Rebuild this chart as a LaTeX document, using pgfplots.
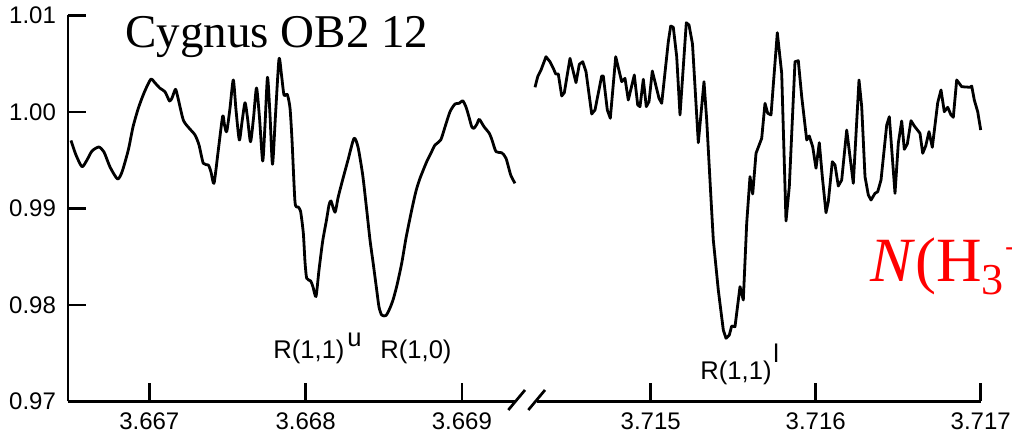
\documentclass[border=0pt]{standalone}
\usepackage{fontspec}
\setmainfont{Liberation Serif}
\setsansfont{Liberation Sans}
\newfontfamily\arial{Liberation Sans}
\usepackage{pgfplots}
\pgfplotsset{compat=1.18}
\begin{document}
\begin{tikzpicture}
\useasboundingbox (0,0) rectangle (506pt,222pt);
\clip (0,0) rectangle (506pt,222pt);
\pgfplotsset{
 common/.style={
  scale only axis, height=193pt, ymin=0.97, ymax=1.01,
  axis x line*=bottom, tick align=inside,
  axis line style={line width=1.35pt},
  major tick length=9.25pt,
  every tick/.style={black, line width=1.35pt},
  ticklabel style={font=\arial\fontsize{12}{14}\selectfont},
  /pgf/number format/assume math mode=true,
  clip=false, enlargelimits=false,
  xtick={0,1,2},
  xticklabel style={yshift=-2pt},
 }
}
\begin{axis}[common, at={(34pt,21.25pt)}, anchor=south west, width=223.5pt,
  xmin=-0.5202, xmax=2.3397,
  axis y line*=left,
  ytick={0.97,0.98,0.99,1.00,1.01},
  yticklabel style={/pgf/number format/fixed, /pgf/number format/fixed zerofill, /pgf/number format/precision=2, xshift=-2.5pt},
  xticklabels={3.667,3.668,3.669},
]
\addplot[line width=1.4pt, line join=round, smooth, tension=0.4] coordinates {
(-0.5010,0.99705) (-0.4690,0.99554) (-0.4306,0.99433) (-0.3986,0.99503) (-0.3666,0.99596) (-0.3231,0.99637) (-0.2898,0.99585) (-0.2514,0.99430) (-0.2035,0.99306) (-0.1747,0.99378) (-0.1344,0.99606) (-0.1043,0.99845) (-0.0704,1.00038) (-0.0339,1.00197) (0.0090,1.00339) (0.0365,1.00301) (0.0685,1.00246) (0.1004,1.00210) (0.1292,1.00114) (0.1452,1.00145) (0.1676,1.00235) (0.1836,1.00145) (0.2175,0.99917) (0.2540,0.99834) (0.2924,0.99762) (0.3180,0.99658) (0.3455,0.99468) (0.3775,0.99451) (0.3948,0.99378) (0.4139,0.99261) (0.4415,0.99606) (0.4696,0.99959) (0.4811,0.99865) (0.4952,0.99796) (0.5163,1.00041) (0.5374,1.00332) (0.5547,1.00021) (0.5758,0.99710) (0.5931,0.99896) (0.6123,1.00096) (0.6283,0.99938) (0.6475,0.99692) (0.6667,0.99938) (0.6859,1.00249) (0.7051,0.99938) (0.7255,0.99492) (0.7402,0.99865) (0.7562,1.00360) (0.7722,0.99969) (0.7882,0.99458) (0.8074,0.99969) (0.8298,1.00549) (0.8458,1.00383) (0.8618,1.00176) (0.8829,1.00181) (0.9002,1.00041) (0.9130,0.99710) (0.9322,0.99067) (0.9514,0.99016) (0.9674,0.98974) (0.9853,0.98746) (0.9962,0.98446) (1.0070,0.98277) (1.0326,0.98249) (1.0473,0.98187) (1.0665,0.98088) (1.0857,0.98363) (1.1094,0.98663) (1.1337,0.98881) (1.1497,0.99036) (1.1625,0.99078) (1.1881,0.98961) (1.2073,0.99109) (1.2310,0.99261) (1.2713,0.99503) (1.3097,0.99727) (1.3353,0.99637) (1.3653,0.99347) (1.3896,0.99005) (1.4120,0.98674) (1.4312,0.98446) (1.4549,0.98155) (1.4696,0.97979) (1.4869,0.97896) (1.5144,0.97891) (1.5400,0.97969) (1.5611,0.98062) (1.5848,0.98207) (1.6148,0.98432) (1.6424,0.98694) (1.6788,0.98984) (1.7063,0.99181) (1.7319,0.99313) (1.7748,0.99485) (1.8023,0.99575) (1.8279,0.99658) (1.8644,0.99710) (1.8919,0.99845) (1.9239,1.00003) (1.9559,1.00083) (1.9834,1.00090) (2.0051,1.00117) (2.0262,1.00052) (2.0454,0.99948) (2.0627,0.99848) (2.0774,0.99831) (2.0966,0.99876) (2.1113,0.99924) (2.1414,0.99848) (2.1753,0.99779) (2.1926,0.99710) (2.2182,0.99589) (2.2546,0.99578) (2.2822,0.99520) (2.3123,0.99347) (2.3397,0.99261)
};
\end{axis}
\begin{axis}[common, at={(268.5pt,21.25pt)}, anchor=south west, width=221.85pt,
  xmin=-0.6891, xmax=2.0,
  axis y line=none, ytick=\empty,
  xticklabels={3.715,3.716,3.717},
]
\addplot[line width=1.4pt, line join=round] coordinates {
(-0.7012,1.00256) (-0.6848,1.00366) (-0.6648,1.00435) (-0.6345,1.00573) (-0.6103,1.00521) (-0.5903,1.00453) (-0.5758,1.00394) (-0.5600,1.00394) (-0.5394,1.00166) (-0.5236,1.00200) (-0.4891,1.00556) (-0.4527,1.00304) (-0.4327,1.00494) (-0.4121,1.00521) (-0.3921,1.00418) (-0.3576,0.99979) (-0.3376,1.00021) (-0.2970,1.00373) (-0.2873,1.00373) (-0.2630,1.00021) (-0.2448,0.99935) (-0.2121,1.00573) (-0.1758,1.00314) (-0.1558,1.00349) (-0.1358,1.00124) (-0.0994,1.00383) (-0.0788,1.00073) (-0.0648,1.00055) (-0.0448,1.00339) (-0.0267,1.00055) (-0.0103,1.00107) (0.0097,1.00425) (0.0503,1.00142) (0.0667,1.00090) (0.1067,1.00729) (0.1212,1.00891) (0.1370,1.00878) (0.1576,1.00573) (0.1776,0.99969) (0.2158,1.00925) (0.2321,1.00902) (0.2533,1.00705) (0.2885,0.99682) (0.3230,1.00314) (0.3394,0.99917) (0.3636,0.99157) (0.3794,0.98674) (0.4097,0.98155) (0.4400,0.97741) (0.4564,0.97655) (0.4764,0.97689) (0.4909,0.97782) (0.5109,0.97775) (0.5412,0.98190) (0.5612,0.98052) (0.5818,0.98847) (0.6018,0.99330) (0.6182,0.99150) (0.6382,0.99572) (0.6727,0.99727) (0.6927,1.00090) (0.7091,0.99987) (0.7291,0.99969) (0.7673,1.00822) (0.7939,1.00401) (0.8200,0.98870) (0.8400,0.99226) (0.8745,1.00521) (0.8945,1.00532) (0.9152,1.00159) (0.9455,0.99710) (0.9612,0.99751) (0.9818,0.99640) (1.0018,0.99417) (1.0218,0.99682) (1.0400,0.99330) (1.0624,0.98956) (1.0764,0.99070) (1.1006,0.99485) (1.1170,0.99451) (1.1370,0.99233) (1.1576,0.99295) (1.1879,0.99813) (1.2279,0.99261) (1.2624,1.00332) (1.2788,1.00055) (1.2988,0.99330) (1.3188,0.99140) (1.3352,0.99088) (1.3594,0.99157) (1.3758,0.99174) (1.3958,0.99295) (1.4303,0.99865) (1.4461,0.99951) (1.4806,0.99157) (1.5006,0.99676) (1.5212,0.99907) (1.5370,0.99613) (1.5552,0.99668) (1.5776,0.99910) (1.5976,0.99855) (1.6321,0.99779) (1.6485,0.99572) (1.6667,0.99648) (1.6867,0.99796) (1.7067,0.99634) (1.7394,1.00096) (1.7594,1.00228) (1.7794,1.00003) (1.8000,1.00049) (1.8200,0.99969) (1.8339,0.99945) (1.8545,1.00332) (1.8848,1.00262) (1.9352,1.00256) (1.9455,1.00269) (1.9612,1.00124) (1.9818,1.00003) (2.0000,0.99813)
};
\end{axis}
% axis break marks
\draw[line width=1.35pt] (254.15pt,17pt) -- (262.5pt,27pt);
\draw[line width=1.35pt] (264.15pt,17pt) -- (272.5pt,27pt);
% texts
\node[anchor=base west, inner sep=0pt, font=\fontsize{23.5}{26}\selectfont] at (62.5pt,198pt) {Cygnus OB2 12};
\node[anchor=base west, inner sep=0pt, text=red, font=\fontsize{31.5}{34}\selectfont] at (435pt,81pt) {\textit{N}(H\textsubscript{3}\textsuperscript{+})};
\node[anchor=base west, inner sep=0pt, font=\arial\fontsize{12.8}{15}\selectfont] at (136.5pt,42.5pt) {R(1,1)};
\node[anchor=base west, inner sep=0pt, font=\arial\fontsize{12.8}{15}\selectfont] at (173.5pt,48.6pt) {u};
\node[anchor=base west, inner sep=0pt, font=\arial\fontsize{12.8}{15}\selectfont] at (190pt,42.5pt) {R(1,0)};
\node[anchor=base west, inner sep=0pt, font=\arial\fontsize{12.8}{15}\selectfont] at (350pt,32pt) {R(1,1)};
\node[anchor=base west, inner sep=0pt, font=\arial\fontsize{12.8}{15}\selectfont] at (386.5pt,40.5pt) {l};
\end{tikzpicture}
\end{document}
